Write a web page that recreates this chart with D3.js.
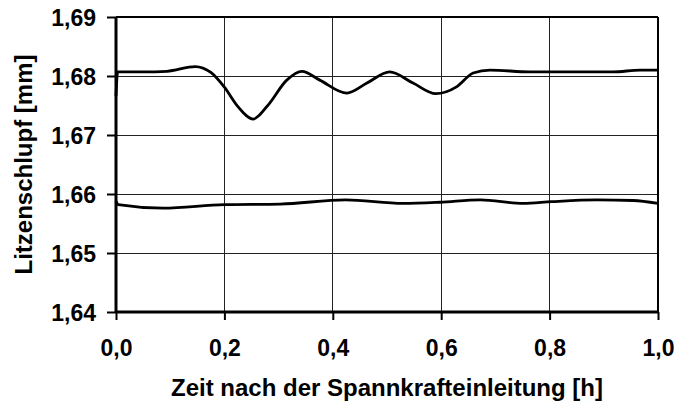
<!DOCTYPE html>
<html>
<head>
<meta charset="utf-8">
<script src="https://cdn.jsdelivr.net/npm/d3@7/dist/d3.min.js"></script>
<style>
  html, body { margin: 0; padding: 0; background: #fff; }
  svg { display: block; }
  text { font-family: "Liberation Sans", Arial, sans-serif; font-weight: bold; fill: #000; }
</style>
</head>
<body>
<svg id="chart" width="677" height="406"></svg>
<script>
// Time after prestressing (h) and measured strand slip (mm)
const upperTime = [0, 0.003, 0.05, 0.094, 0.146, 0.175, 0.2, 0.225, 0.253, 0.28, 0.315, 0.343, 0.376, 0.426, 0.463, 0.505, 0.548, 0.590, 0.629, 0.659, 0.690, 0.764, 0.856, 0.917, 0.967, 1.0];
const upperSlip = [1.6766, 1.6807, 1.6807, 1.6808, 1.6816, 1.6806, 1.6781, 1.6748, 1.6727, 1.6750, 1.6793, 1.6808, 1.6793, 1.6771, 1.6788, 1.6807, 1.6788, 1.6770, 1.6782, 1.6805, 1.6810, 1.6807, 1.6807, 1.6807, 1.6810, 1.6810];

const lowerTime = [0, 0.004, 0.087, 0.2, 0.303, 0.423, 0.53, 0.598, 0.672, 0.751, 0.804, 0.887, 0.954, 1.0];
const lowerSlip = [1.6588, 1.6582, 1.6576, 1.6582, 1.6583, 1.6590, 1.6584, 1.6586, 1.6590, 1.6584, 1.6587, 1.6590, 1.6589, 1.6584];

const xTicks = [0, 0.2, 0.4, 0.6, 0.8, 1.0];
const yTicks = [1.64, 1.65, 1.66, 1.67, 1.68, 1.69];

const xTitle = "Zeit nach der Spannkrafteinleitung [h]";
const yTitle = "Litzenschlupf [mm]";

const deLocale = d3.formatLocale({ decimal: ",", thousands: ".", grouping: [3], currency: ["", " €"] });
const fmtX = deLocale.format(".1f");
const fmtY = deLocale.format(".2f");

const svg = d3.select("#chart");
const plot = { left: 116, right: 658, top: 17, bottom: 312 };

const x = d3.scaleLinear().domain([0, 1]).range([plot.left, plot.right]);
const y = d3.scaleLinear().domain([1.64, 1.69]).range([plot.bottom, plot.top]);

// Grid lines
const grid = svg.append("g");
grid.selectAll("line.v").data(xTicks.slice(1, -1)).join("line")
  .attr("x1", d => x(d)).attr("x2", d => x(d))
  .attr("y1", plot.top).attr("y2", plot.bottom)
  .attr("stroke", "#222").attr("stroke-width", 1).attr("shape-rendering", "crispEdges");
grid.selectAll("line.h").data(yTicks.slice(1, -1)).join("line")
  .attr("x1", plot.left).attr("x2", plot.right)
  .attr("y1", d => y(d)).attr("y2", d => y(d))
  .attr("stroke", "#222").attr("stroke-width", 1).attr("shape-rendering", "crispEdges");

// Plot frame (top and right)
svg.append("line")
  .attr("x1", plot.left).attr("x2", plot.right).attr("y1", plot.top).attr("y2", plot.top)
  .attr("stroke", "#000").attr("stroke-width", 2);
svg.append("line")
  .attr("x1", plot.right).attr("x2", plot.right).attr("y1", plot.top).attr("y2", plot.bottom)
  .attr("stroke", "#000").attr("stroke-width", 2);

// Axes
const xAxis = d3.axisBottom(x).tickValues(xTicks).tickFormat(fmtX).tickSize(8).tickPadding(20);
const yAxis = d3.axisLeft(y).tickValues(yTicks).tickFormat(fmtY).tickSize(9).tickPadding(11);

const gx = svg.append("g").attr("transform", `translate(0,${plot.bottom})`).call(xAxis);
const gy = svg.append("g").attr("transform", `translate(${plot.left},0)`).call(yAxis);

gx.select(".domain").attr("stroke", "#000").attr("stroke-width", 3).attr("d", `M${plot.left},0H${plot.right}`);
gy.select(".domain").attr("stroke", "#000").attr("stroke-width", 3).attr("d", `M0,${plot.top}V${plot.bottom}`);
gx.selectAll(".tick line").attr("stroke", "#000").attr("stroke-width", 2);
gy.selectAll(".tick line").attr("stroke", "#000").attr("stroke-width", 2);
svg.selectAll(".tick text")
  .attr("font-size", 23).attr("font-family", null)
  .style("font-family", "'Liberation Sans', Arial, sans-serif").style("font-weight", "bold");
gy.selectAll(".tick text").attr("dy", "0.35em");

// Axis titles
svg.append("text")
  .attr("x", (plot.left + plot.right) / 2).attr("y", 396)
  .attr("text-anchor", "middle").attr("font-size", 24)
  .text(xTitle);
svg.append("text")
  .attr("transform", `translate(32,${(plot.top + plot.bottom) / 2}) rotate(-90)`)
  .attr("text-anchor", "middle").attr("font-size", 24)
  .text(yTitle);

// Measurement curves (smoothed)
const path = d3.line().x(d => x(d[0])).y(d => y(d[1])).curve(d3.curveMonotoneX);

svg.append("path")
  .datum(d3.zip(upperTime, upperSlip))
  .attr("fill", "none").attr("stroke", "#000").attr("stroke-width", 2.8)
  .attr("stroke-linejoin", "round").attr("d", path);
svg.append("path")
  .datum(d3.zip(lowerTime, lowerSlip))
  .attr("fill", "none").attr("stroke", "#000").attr("stroke-width", 2.8)
  .attr("stroke-linejoin", "round").attr("d", path);
</script>
</body>
</html>
